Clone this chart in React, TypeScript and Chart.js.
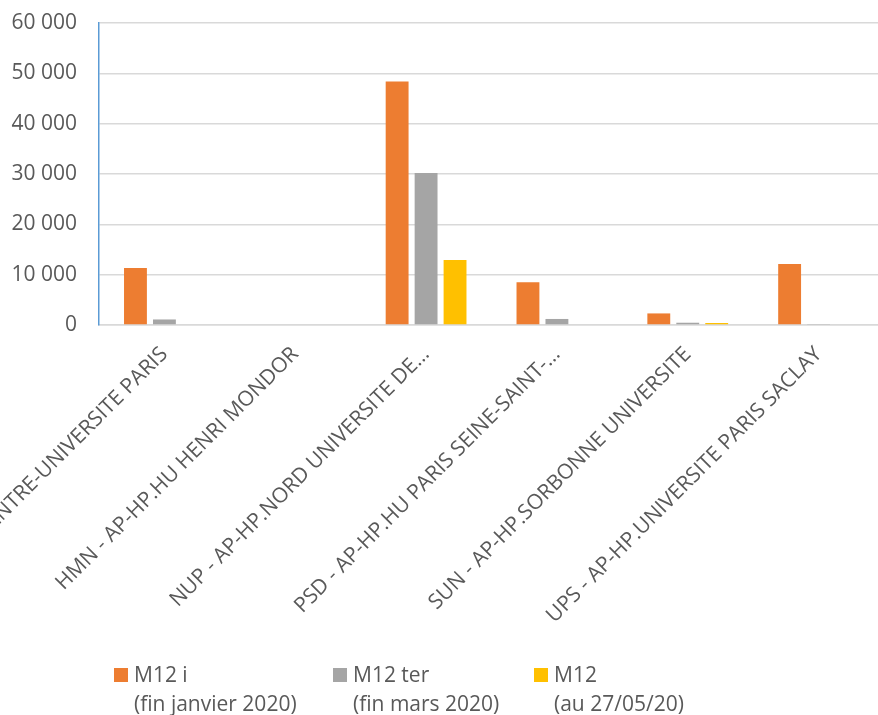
import React, { useEffect, useRef } from "react";
import { Chart, registerables } from "chart.js";

Chart.register(...registerables);

const categories = [
  "CUP - AP-HP.CENTRE-UNIVERSITE PARIS",
  "HMN - AP-HP.HU HENRI MONDOR",
  "NUP - AP-HP.NORD UNIVERSITE DE…",
  "PSD - AP-HP.HU PARIS SEINE-SAINT-…",
  "SUN - AP-HP.SORBONNE UNIVERSITE",
  "UPS - AP-HP.UNIVERSITE PARIS SACLAY",
];

const seriesNames = ["M12 i", "M12 ter", "M12"];
const seriesSubtitles = ["(fin janvier 2020)", "(fin mars 2020)", "(au 27/05/20)"];
const seriesColors = ["#ED7D31", "#A5A5A5", "#FFC000"];

const m12i = [11300, 0, 48400, 8500, 2300, 12100];
const m12ter = [1100, 0, 30200, 1200, 450, 100];
const m12 = [0, 0, 12900, 0, 400, 0];

const yTicks = [0, 10000, 20000, 30000, 40000, 50000, 60000];

const FONT = "'Open Sans', Lato, sans-serif";
const TEXT = "#595959";

const legendPlugin = {
  id: "bottomLegend",
  afterDraw(chart: any) {
    const ctx = chart.ctx;
    const xs = [114, 333, 534];
    const top = 668;
    ctx.save();
    ctx.font = `21px ${FONT}`;
    ctx.textBaseline = "middle";
    ctx.textAlign = "left";
    chart.data.datasets.forEach((ds: any, i: number) => {
      const x = xs[i];
      ctx.fillStyle = ds.backgroundColor;
      ctx.fillRect(x, top, 14, 14);
      ctx.fillStyle = TEXT;
      ctx.fillText(ds.label, x + 20, top + 8);
      ctx.fillText(seriesSubtitles[i], x + 20, top + 37);
    });
    ctx.restore();
  },
};

export default function App() {
  const ref = useRef<HTMLCanvasElement | null>(null);
  useEffect(() => {
    if (!ref.current) return;
    const values = [m12i, m12ter, m12];
    const chart = new Chart(ref.current, {
      type: "bar",
      data: {
        labels: categories,
        datasets: seriesNames.map((name, i) => ({
          label: name,
          data: values[i],
          backgroundColor: seriesColors[i],
          borderWidth: 0,
          categoryPercentage: 0.664,
          barPercentage: 0.79,
        })),
      },
      options: {
        animation: false,
        responsive: false,
        devicePixelRatio: 1,
        layout: { padding: { top: 23, right: 6, left: 0, bottom: 0 } },
        plugins: {
          legend: { display: false },
          tooltip: { enabled: false },
        },
        scales: {
          x: {
            grid: { display: false, drawTicks: false },
            border: { display: true, color: "#D9D9D9", width: 1.5 },
            ticks: {
              autoSkip: false,
              maxRotation: 45,
              minRotation: 45,
              padding: 17,
              color: TEXT,
              font: { family: FONT, size: 21 },
            },
            afterFit: (s: any) => {
              s.height = 390;
              s.paddingLeft = 0;
              s.paddingRight = 0;
              s.paddingTop = 0;
              s.paddingBottom = 0;
            },
          },
          y: {
            min: 0,
            max: 60000,
            afterBuildTicks: (s: any) => {
              s.ticks = yTicks.map((v) => ({ value: v }));
            },
            grid: { color: "#D9D9D9", lineWidth: 1.5, drawTicks: false },
            border: { display: true, color: "#5B9BD5", width: 1.5 },
            ticks: {
              padding: 22,
              color: TEXT,
              font: { family: FONT, size: 21 },
              callback: (v: any) =>
                String(v).replace(/\B(?=(\d{3})+(?!\d))/g, " "),
            },
            afterFit: (s: any) => {
              s.width = 99;
              s.paddingTop = 0;
              s.paddingBottom = 0;
            },
          },
        },
      },
      plugins: [legendPlugin],
    });
    return () => chart.destroy();
  }, []);
  return (
    <div
      style={{
        position: "fixed",
        left: 0,
        top: 0,
        width: 878,
        height: 715,
        overflow: "hidden",
        background: "#fff",
      }}
    >
      <canvas ref={ref} width={890} height={715} style={{ width: 890, height: 715, display: "block" }} />
    </div>
  );
}
